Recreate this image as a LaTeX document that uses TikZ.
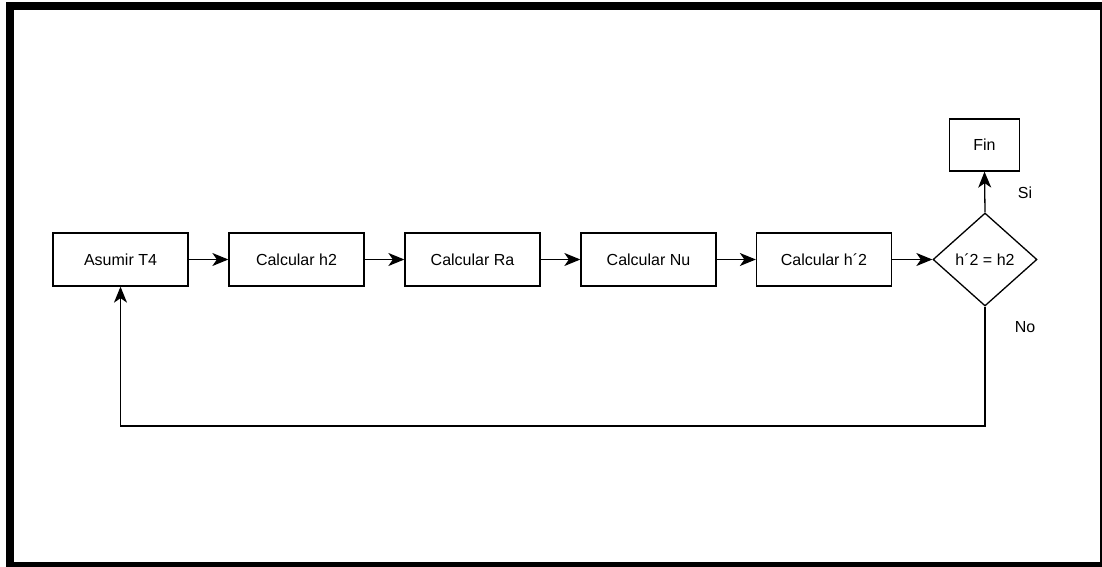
\documentclass[tikz,border=0pt]{standalone}
\usepackage{fontspec}
\setmainfont{Liberation Sans}
\usetikzlibrary{arrows.meta,shapes.geometric}

\tikzset{
  stepbox/.style={draw, line width=1.3pt, minimum width=135, minimum height=53,
    inner sep=0pt, font=\fontsize{16}{19}\selectfont},
  decbox/.style={draw, diamond, line width=1.3pt, minimum width=104,
    minimum height=93, inner sep=0pt},
  txt/.style={inner sep=0pt, font=\fontsize{16}{19}\selectfont},
  flow/.style={line width=1.3pt, -{Stealth[length=16pt, width=13pt, inset=4.5pt]}},
}

\begin{document}
\begin{tikzpicture}[x=1pt, y=-1pt]

  %%-- PAGE SIZE AND OUTER BORDER --%%
  \useasboundingbox (0,0) rectangle (1102,567);
  \draw[line width=8pt] (10,6) rectangle (1104,566);

  %%-- PROCESS ROW (y = 259.5) --%%
  \node[stepbox] (asumir) at (120.5,259.5) {Asumir T4};
  \node[stepbox] (calch)  at (296.5,259.5) {Calcular h2};
  \node[stepbox] (calcra) at (472.5,259.5) {Calcular Ra};
  \node[stepbox] (calcnu) at (648.5,259.5) {Calcular Nu};
  \node[stepbox] (calchp) at (824,259.5)   {Calcular h´2};

  %%-- DECISION AND END --%%
  \node[decbox] (check) at (985,259.5) {};
  \node[txt] (checktxt) at (check) {h´2 = h2};
  \node[stepbox, minimum width=70, minimum height=52] (fin) at (984.5,145) {Fin};

  %%-- ARROWS ALONG THE ROW --%%
  \draw[flow] (asumir) -- (calch);
  \draw[flow] (calch)  -- (calcra);
  \draw[flow] (calcra) -- (calcnu);
  \draw[flow] (calcnu) -- (calchp);
  \draw[flow] (calchp) -- (check);

  %%-- YES: UP TO FIN --%%
  \draw[flow] (check.north) -- (fin.south);
  \node[txt] (si) at (1025,193) {Si};

  %%-- NO: BACK TO THE START --%%
  \coordinate (loopr) at (985,426);
  \coordinate (loopl) at (120.5,426);
  \draw[flow] (check.south) -- (loopr) -- (loopl) -- (asumir.south);
  \node[txt] (no) at (1025,327) {No};

\end{tikzpicture}
\end{document}
